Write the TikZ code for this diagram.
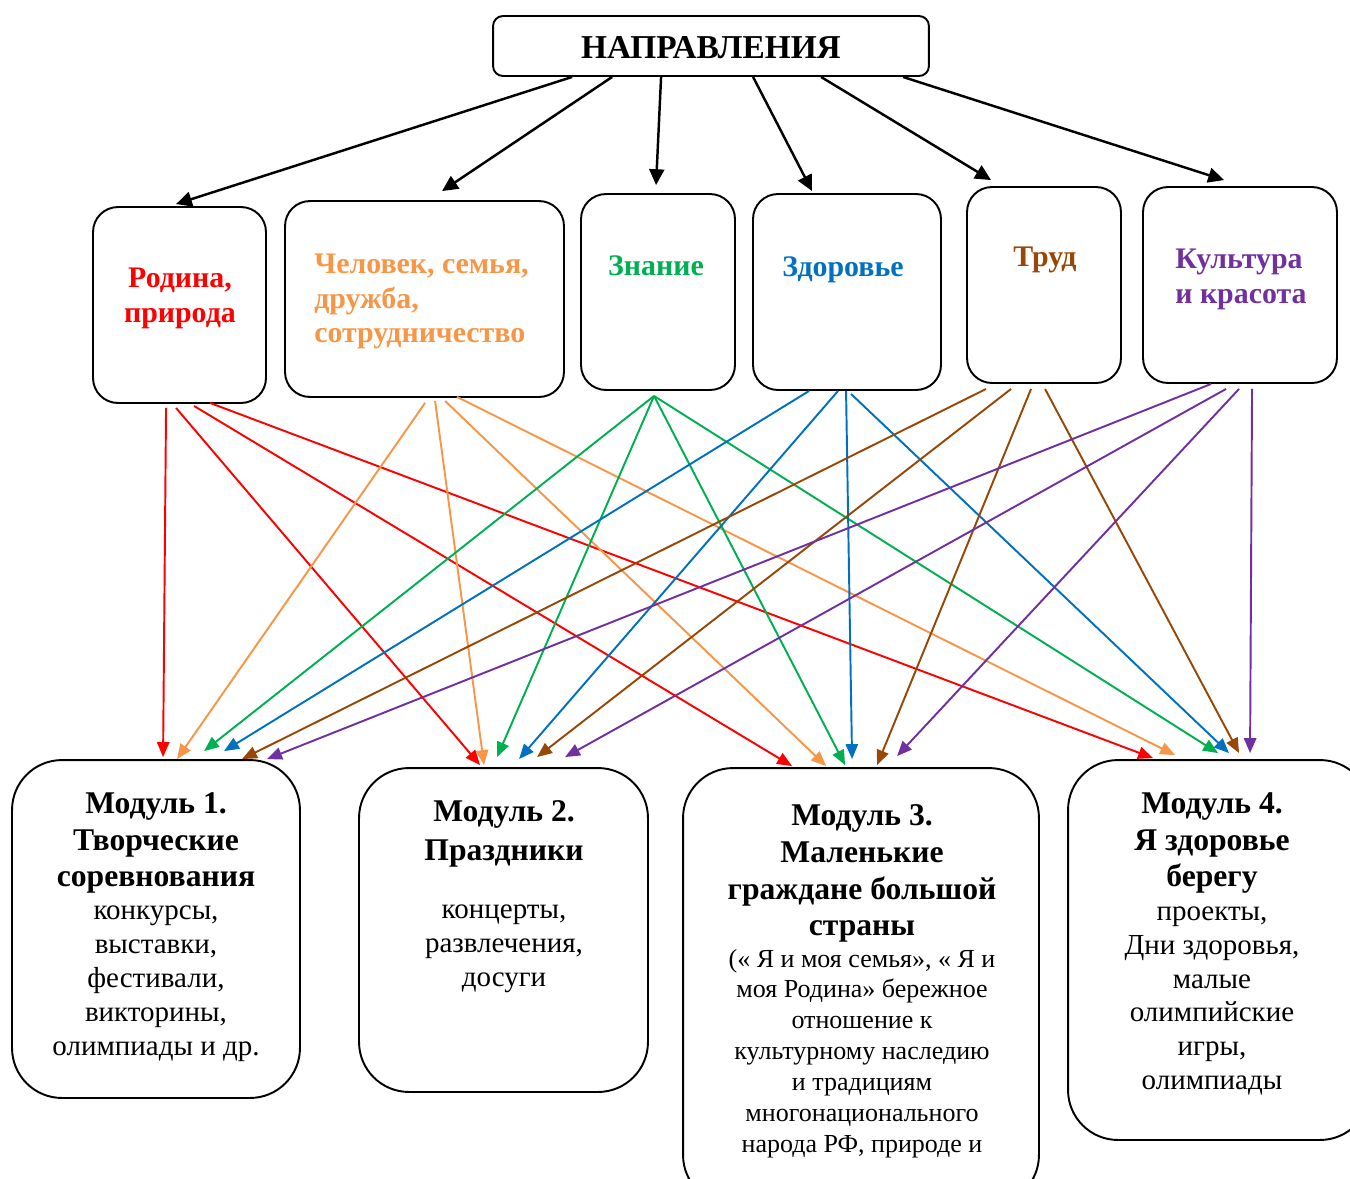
\documentclass[tikz,border=0pt]{standalone}
\usepackage{fontspec}
\setmainfont{Liberation Serif}
\usetikzlibrary{arrows.meta,calc}
\definecolor{cred}{HTML}{FF0000}
\definecolor{corange}{HTML}{F79646}
\definecolor{cgreen}{HTML}{00B050}
\definecolor{cblue}{HTML}{0070C0}
\definecolor{cbrown}{HTML}{974706}
\definecolor{cpurple}{HTML}{7030A0}
\newcommand\myconn[5]{\draw[conn,#1] ($(#2.south west)+(#3)$) -- ($(#4.north west)+(#5)$);}
\tikzset{
  box/.style={draw=black,line width=1.1pt,fill=white,inner sep=0pt},
  topbox/.style={box,rounded corners=0.2cm},
  dirbox/.style={box,rounded corners=0.5cm},
  modbox/.style={box,rounded corners=1cm},
  conn/.style={line width=1.1pt,-{Triangle[length=8.5pt,width=7pt]}},
  blackarrow/.style={line width=1.4pt,-{Triangle[length=9pt,width=8.5pt]}},
  dirtext/.style={font=\fontsize{17}{19.8}\selectfont\bfseries,inner sep=0pt},
  modtitle/.style={font=\fontsize{18}{21}\selectfont\bfseries,align=center,inner sep=0pt},
  modbody/.style={font=\fontsize{16.5}{19.3}\selectfont,align=center,inner sep=0pt},
}
\begin{document}
\begin{tikzpicture}[x=0.02cm,y=-0.02cm]
\useasboundingbox (0,0) rectangle (1350,1178);
\clip (0,0) rectangle (1350,1178);
% boxes
\node[topbox,minimum width=8.72cm,minimum height=1.2cm] (top) at (711,46) {};
\node[dirbox,minimum width=3.46cm,minimum height=3.92cm] (rod) at (179.5,305) {};
\node[dirbox,minimum width=5.58cm,minimum height=3.92cm] (chel) at (424.5,299) {};
\node[dirbox,minimum width=3.08cm,minimum height=3.92cm] (zn) at (658,292) {};
\node[dirbox,minimum width=3.76cm,minimum height=3.92cm] (zd) at (847,292) {};
\node[dirbox,minimum width=3.08cm,minimum height=3.92cm] (tr) at (1044,285) {};
\node[dirbox,minimum width=3.88cm,minimum height=3.92cm] (ku) at (1240,285) {};
\node[modbox,minimum width=5.76cm,minimum height=6.76cm] (m1) at (156,929) {};
\node[modbox,minimum width=5.78cm,minimum height=6.48cm] (m2) at (503.5,930) {};
\node[modbox,minimum width=7.12cm,minimum height=8.74cm] (m3) at (861,986.5) {};
\node[modbox,minimum width=6.04cm,minimum height=7.6cm] (m4) at (1219,950) {};
% texts
\node[font=\fontsize{19}{22}\selectfont\bfseries,inner sep=0pt] (ttop) at (711,48) {НАПРАВЛЕНИЯ};
\node[dirtext,text=cred,align=center] (trod) at (180,298.5) {Родина,\\природа};
\node[dirtext,text=corange,align=left,anchor=west] (tchel) at (314,301.5) {Человек, семья,\\дружба,\\сотрудничество};
\node[dirtext,text=cgreen] (tzn) at (656,266) {Знание};
\node[dirtext,text=cblue] (tzd) at (843,270) {Здоровье};
\node[dirtext,text=cbrown] (ttr) at (1045,260) {Труд};
\node[dirtext,text=cpurple,align=left,anchor=west] (tku) at (1175,279.5) {Культура\\и красота};
\node[modtitle] (t1) at (156,843) {Модуль 1.\\Творческие\\соревнования};
\node[modbody] (b1) at (156,984) {конкурсы,\\выставки,\\фестивали,\\викторины,\\олимпиады и др.};
\node[modtitle,font=\fontsize{18}{22.5}\selectfont\bfseries] (t2) at (504,834) {Модуль 2.\\Праздники};
\node[modbody] (b2) at (504,949) {концерты,\\развлечения,\\досуги};
\node[modtitle] (t3) at (862,873.5) {Модуль 3.\\Маленькие\\граждане большой\\страны};
\node[modbody,font=\fontsize{14.8}{17.6}\selectfont] (b3) at (862,1053.5) {(« Я и моя семья», « Я и\\моя Родина» бережное\\отношение к\\культурному наследию\\и традициям\\многонационального\\народа РФ, природе и};
\node[modtitle] (t4) at (1212,843) {Модуль 4.\\Я здоровье\\берегу};
\node[modbody] (b4) at (1212,1001) {проекты,\\Дни здоровья,\\малые\\олимпийские\\игры,\\олимпиады};
% black arrows
\draw[blackarrow] ($(top.south west)+(80,0)$) -- ($(rod.north west)+(84,-2)$);
\draw[blackarrow] ($(top.south west)+(120,0)$) -- ($(chel.north west)+(158,-9)$);
\draw[blackarrow] ($(top.south west)+(169,0)$) -- ($(zn.north west)+(76,-8)$);
\draw[blackarrow] ($(top.south west)+(261,0)$) -- ($(zd.north west)+(60,-2)$);
\draw[blackarrow] ($(top.south west)+(329,0)$) -- ($(tr.north west)+(25,-6)$);
\draw[blackarrow] ($(top.south west)+(411,0)$) -- ($(ku.north west)+(82,-6)$);
% red
\myconn{cred}{rod}{74,4}{m1}{152,-2}
\myconn{cred}{rod}{84,4}{m2}{122,-2}
\myconn{cred}{rod}{102,2}{m3}{110,-1}
\myconn{cred}{rod}{118,-1}{m4}{86,-1}
% orange
\myconn{corange}{chel}{141,5}{m1}{166,0}
\myconn{corange}{chel}{151,3}{m2}{126,-2}
\myconn{corange}{chel}{161,3}{m3}{144,-1}
\myconn{corange}{chel}{173,-1}{m4}{108,-4}
% green
\myconn{cgreen}{zn}{74,5}{m1}{193,-8}
\myconn{cgreen}{zn}{74,5}{m2}{139,-10}
\myconn{cgreen}{zn}{74,5}{m3}{163,-2}
\myconn{cgreen}{zn}{74,5}{m4}{151,-6}
% blue
\myconn{cblue}{zd}{57,0}{m1}{213,-8}
\myconn{cblue}{zd}{86,0}{m2}{161,-8}
\myconn{cblue}{zd}{94,0}{m3}{170,-8}
\myconn{cblue}{zd}{99,3}{m4}{162,-6}
% brown
\myconn{cbrown}{tr}{20,5}{m1}{231,0}
\myconn{cbrown}{tr}{45,5}{m2}{179,-10}
\myconn{cbrown}{tr}{65,5}{m3}{195,-2}
\myconn{cbrown}{tr}{79,5}{m4}{172,-6}
% purple
\myconn{cpurple}{ku}{69,0}{m1}{256,0}
\myconn{cpurple}{ku}{84,5}{m2}{207,-10}
\myconn{cpurple}{ku}{97,5}{m3}{215,-11}
\myconn{cpurple}{ku}{110,5}{m4}{183,-6}
\end{tikzpicture}
\end{document}
